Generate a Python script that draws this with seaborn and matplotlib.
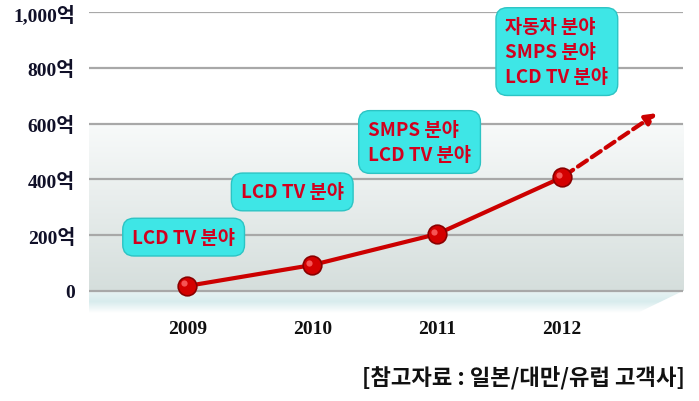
import matplotlib
matplotlib.use("Agg")
import matplotlib.pyplot as plt
from matplotlib.colors import LinearSegmentedColormap
import numpy as np
import pandas as pd
import seaborn as sns

# data
years = [2009, 2010, 2011, 2012]
sales = [18, 93, 204, 407]          # 억
forecast_year = 2012.78
forecast_val = 643
yticks = [0, 200, 400, 600, 800, 1000]
ytick_labels = ["0", "200억", "400억", "600억", "800억", "1,000억"]
notes = ["LCD TV 분야", "LCD TV 분야", "SMPS 분야\nLCD TV 분야", "자동차 분야\nSMPS 분야\nLCD TV 분야"]
note_pos = [(2008.97, 193), (2009.84, 355), (2010.86, 534), (2011.96, 858)]
source = "[참고자료 : 일본/대만/유럽 고객사]"

sns.set_theme(style="white")
kr = ['Noto Sans CJK KR', 'DejaVu Sans']
serif_kr = ['Liberation Serif', 'Noto Sans CJK KR']
plt.rcParams['font.family'] = kr

fig = plt.figure(figsize=(6.99, 4.02), dpi=100)
ax = fig.add_axes([0.127, 0.2147, 0.85, 0.753])
x0, x1 = 2008.21, 2012.97
ax.set_xlim(x0, x1)
ax.set_ylim(-85, 1000)

# 배경 그라데이션 (600 아래)
grad = np.linspace(0, 1, 256).reshape(-1, 1)
cmap = LinearSegmentedColormap.from_list("bg", ["#d5dedc", "#f8fafa"])
ax.imshow(grad, cmap=cmap, aspect="auto", extent=[x0, x1, 0, 600],
          origin="lower", zorder=0)
# 바닥 띠
floor = LinearSegmentedColormap.from_list("fl", ["#ffffff", "#d8eced", "#e9f3f3"])
im = ax.imshow(grad, cmap=floor, aspect="auto", extent=[x0, x1, -80, 0],
               origin="lower", zorder=0)
poly = plt.Polygon([[x0, 0], [x1, 0], [2012.6, -80], [x0, -80]],
                   transform=ax.transData)
im.set_clip_path(poly)

# grid
for yv in yticks:
    ax.axhline(yv, color="#a8a8a8", lw=1.6, zorder=1)

df = pd.DataFrame({"year": years, "sales": sales})
sns.lineplot(data=df, x="year", y="sales", color="#cc0000", lw=3,
             ax=ax, zorder=3)
sns.scatterplot(data=df, x="year", y="sales", s=180, color="#d40000",
                edgecolor="#8a0000", linewidth=1.2, ax=ax, zorder=4)
ax.scatter(np.array(years) - 0.025, np.array(sales) + 9, s=20,
           color="#ff6a6a", alpha=0.8, linewidth=0, zorder=5)

# 전망 화살표
ax.annotate("", xy=(forecast_year, forecast_val), xytext=(years[-1], sales[-1]),
            arrowprops=dict(arrowstyle="-|>", color="#cc0000", lw=3,
                            linestyle=(0, (2.6, 1.4)), mutation_scale=16),
            zorder=3)

for txt, (xx, yy) in zip(notes, note_pos):
    ax.text(xx, yy, txt, ha="center", va="center", multialignment="left",
            fontsize=13.5, fontweight="bold", color="#d2001e", family=kr,
            linespacing=1.4,
            bbox=dict(boxstyle="round,pad=0.5,rounding_size=0.6",
                      fc="#3ee6e6", ec="#2cc4c4", lw=1),
            zorder=6, clip_on=False)

ax.set_yticks(yticks)
ax.set_yticklabels(ytick_labels, family=serif_kr, fontweight="bold",
                   fontsize=14, color="#101028")
ax.set_xticks(years)
ax.set_xticklabels([str(y) for y in years], family=serif_kr,
                   fontweight="bold", fontsize=14, color="#101010")
ax.tick_params(axis="y", length=0, pad=10)
ax.tick_params(axis="x", length=0, pad=4)
ax.set_xlabel("")
ax.set_ylabel("")
for s in ax.spines.values():
    s.set_visible(False)

fig.text(0.98, 0.06, source, ha="right", va="center", fontsize=16,
         fontweight="bold", family=kr, color="#111111")

fig.savefig("out.png", dpi=100)
